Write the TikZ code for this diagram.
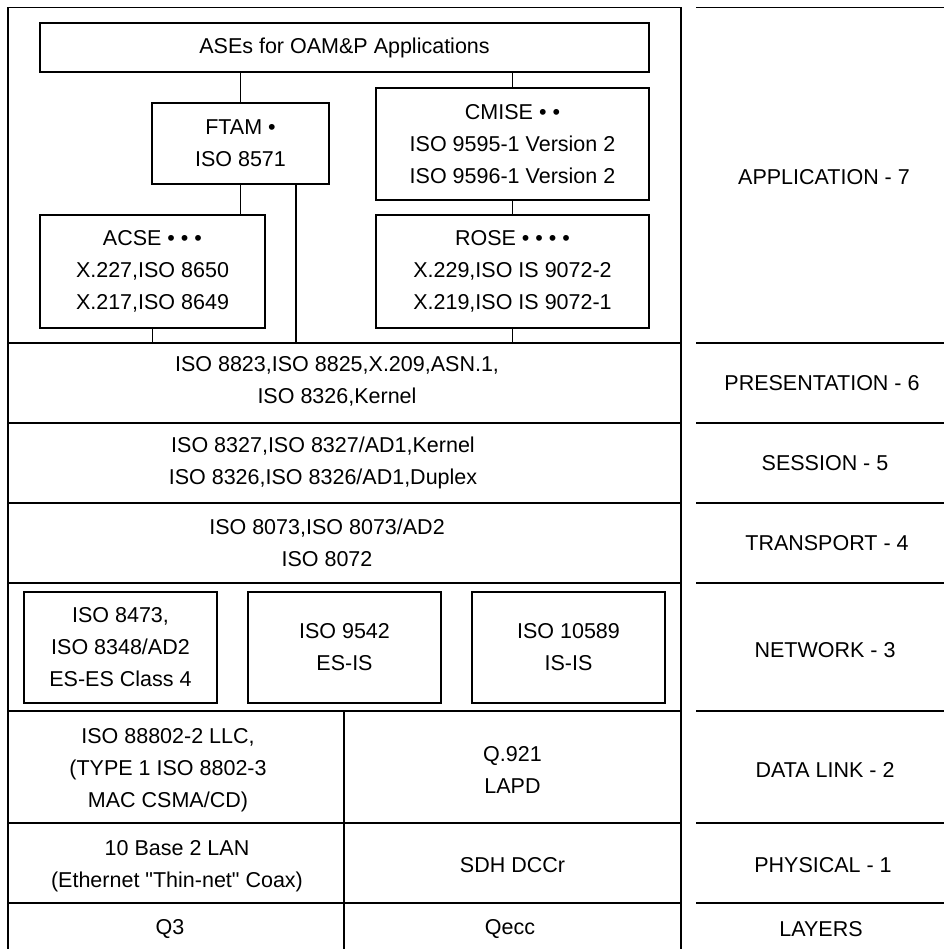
\documentclass[tikz,border=0pt]{standalone}
\usepackage{fontspec}
\setmainfont{Liberation Sans}
\newfontfamily\straightq{Liberation Sans}
\begin{document}
\begin{tikzpicture}[x=1pt,y=-1pt,line width=1.3pt,
  every node/.style={font=\fontsize{21.5}{32}\selectfont,align=center,inner sep=0pt},
  box/.style={draw,line width=1.3pt},
  rule/.style={line width=1.3pt}]
\useasboundingbox (0,0) rectangle (944,949);
% table frame
\draw[rule] (8,949) -- (8,7.5) -- (681,7.5) -- (681,949);
\draw[rule] (696,7.5) -- (944,7.5);
\foreach \yy in {343,423,503,583,711,823,903}{
  \draw[rule] (8,\yy) -- (681,\yy);
  \draw[rule] (696,\yy) -- (944,\yy);
}
\draw[rule] (344,711) -- (344,949);
\coordinate (appbot) at (0,343);
% application boxes
\node[box,minimum width=609pt,minimum height=49pt] (ase) at (344.5,47.5) {ASEs for OAM\&P Applications};
\node[box,minimum width=177pt,minimum height=81pt] (ftam) at (240.5,143.5) {FTAM •\\ISO 8571};
\node[box,minimum width=273pt,minimum height=112pt] (cmise) at (512.5,144) {CMISE • •\\ISO 9595-1 Version 2\\ISO 9596-1 Version 2};
\node[box,minimum width=225pt,minimum height=113pt] (acse) at (152.5,271.5) {ACSE • • •\\X.227,ISO 8650\\X.217,ISO 8649};
\node[box,minimum width=273pt,minimum height=113pt] (rose) at (512.5,271.5) {ROSE • • • •\\X.229,ISO IS 9072-2\\X.219,ISO IS 9072-1};
\draw (ftam.north) -- (ftam.north |- ase.south);
\draw (cmise.north) -- (cmise.north |- ase.south);
\draw (ftam.south) -- (ftam.south |- acse.north);
\draw (cmise.south) -- (rose.north);
\draw (acse.south) -- (acse.south |- appbot);
\draw (rose.south) -- (rose.south |- appbot);
\draw ([xshift=55.5pt]ftam.south) -- ([xshift=55.5pt]ftam.south |- appbot);
% presentation / session / transport
\node (pres) at (337,381) {ISO 8823,ISO 8825,X.209,ASN.1,\\ISO 8326,Kernel};
\node (sess) at (323,463) {ISO 8327,ISO 8327/AD1,Kernel\\ISO 8326,ISO 8326/AD1,Duplex};
\node (trans) at (327,543) {ISO 8073,ISO 8073/AD2\\ISO 8072};
% network
\node[box,minimum width=193pt,minimum height=111pt] (net1) at (120.5,647.5) {ISO 8473,\\ISO 8348/AD2\\ES-ES Class 4};
\node[box,minimum width=193pt,minimum height=111pt] (net2) at (344.5,647.5) {ISO 9542\\ES-IS};
\node[box,minimum width=193pt,minimum height=111pt] (net3) at (568.5,647.5) {ISO 10589\\IS-IS};
% data link, physical, layers
\node (dl1) at (168,770) {ISO 88802-2 LLC,\\(TYPE 1 ISO 8802-3\\MAC CSMA/CD)};
\node (dl2) at (512.5,770) {Q.921\\LAPD};
\node (ph1) at (177,866) {10 Base 2 LAN\\{\straightq (Ethernet "Thin-net" Coax)}};
\node (ph2) at (512.5,865) {SDH DCCr};
\node (q3) at (170,929) {Q3};
\node (qecc) at (510,929) {Qecc};
% layer names
\node (l7) at (824,177) {APPLICATION - 7};
\node (l6) at (822,383) {PRESENTATION - 6};
\node (l5) at (825,463) {SESSION - 5};
\node (l4) at (827,543) {TRANSPORT - 4};
\node (l3) at (825,650) {NETWORK - 3};
\node (l2) at (825,770) {DATA LINK - 2};
\node (l1) at (823,865) {PHYSICAL - 1};
\node (l0) at (821,929) {LAYERS};
\end{tikzpicture}
\end{document}
